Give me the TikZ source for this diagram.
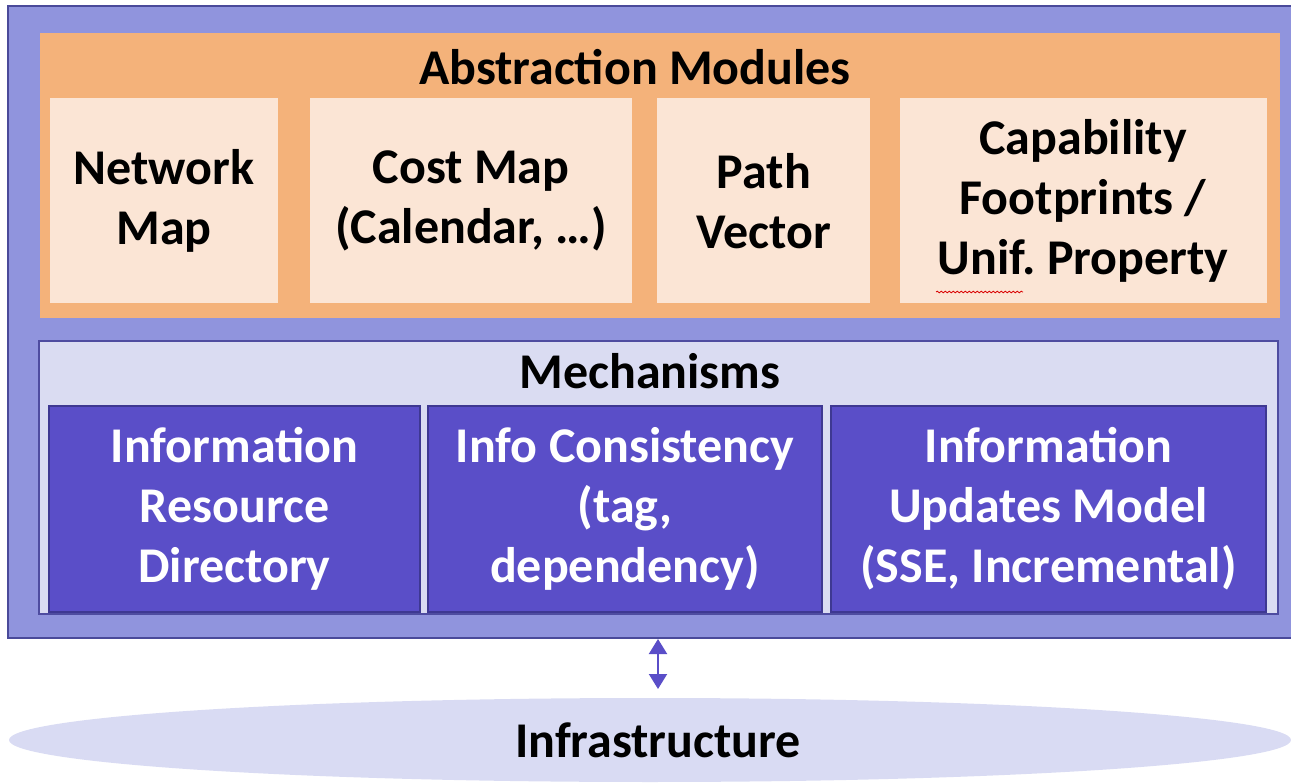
\documentclass[tikz,border=0pt]{standalone}
\usepackage{fontspec}
\setmainfont{Carlito}
\usetikzlibrary{decorations.pathmorphing,arrows.meta}
\definecolor{outerfill}{HTML}{9094DD}
\definecolor{outerdraw}{HTML}{4A4A9A}
\definecolor{orangefill}{HTML}{F4B27A}
\definecolor{peach}{HTML}{FBE5D5}
\definecolor{mechfill}{HTML}{DADCF2}
\definecolor{mechdraw}{HTML}{4E4CA0}
\definecolor{darkbox}{HTML}{5A4EC8}
\definecolor{darkdraw}{HTML}{3E3892}
\definecolor{infra}{HTML}{D9DBF3}
\definecolor{arrowcol}{HTML}{5A4EC8}
\frenchspacing
\tikzset{
  lbl/.style={font=\fontsize{50}{60}\selectfont\bfseries, align=center, inner sep=0pt},
  modbox/.style={fill=peach, draw=none},
  mechbox/.style={fill=darkbox, draw=darkdraw, line width=1.5pt},
}
\begin{document}
\begin{tikzpicture}[x=1pt,y=-1pt]
\useasboundingbox (0,0) rectangle (1291,783);
% infrastructure ellipse
\fill[infra] (650,740) ellipse [x radius=641, y radius=42];
\node[lbl] (infra) at (658,740) {Infrastructure};
% outer container
\draw[fill=outerfill, draw=outerdraw, line width=2pt] (8,6) rectangle (1300,638);
% abstraction modules
\fill[orangefill] (40,33) rectangle (1280,318);
\node[lbl] (abs) at (635,67) {Abstraction Modules};
\fill[modbox] (50,98) rectangle (278,303);
\fill[modbox] (310,98) rectangle (632,303);
\fill[modbox] (657,98) rectangle (870,303);
\fill[modbox] (900,98) rectangle (1267,303);
\node[lbl] (netmap) at (164,201) {Network\\Map};
\node[lbl] (costmap) at (471,201) {Cost Map\\(Calendar, …)};
\node[lbl] (pathvec) at (764,201) {Path\\Vector};
\node[lbl] (capab) at (1083,201) {Capability\\Footprints /\\Unif.\ Property};
\draw[red!85!black, line width=0.8pt, decorate, decoration={snake, amplitude=0.8pt, segment length=4pt}] (936,292) -- (1023,292);
% mechanisms
\draw[fill=mechfill, draw=mechdraw, line width=1.5pt] (39,341) rectangle (1278,614);
\node[lbl] (mech) at (650,371) {Mechanisms};
\draw[mechbox] (49,406) rectangle (420,612);
\draw[mechbox] (428,406) rectangle (822,612);
\draw[mechbox] (831,406) rectangle (1266,612);
\node[lbl, text=white] (ird) at (234.5,509) {Information\\Resource\\Directory};
\node[lbl, text=white] (icons) at (625,509) {Info Consistency\\(tag,\\dependency)};
\node[lbl, text=white] (ium) at (1048.5,509) {Information\\Updates Model\\(SSE, Incremental)};
% arrow
\coordinate (arrtop) at (658,639);
\coordinate (arrbot) at (658,689);
\draw[arrowcol, line width=2pt, {Triangle[width=18pt,length=15pt]}-{Triangle[width=18pt,length=15pt]}] (arrtop) -- (arrbot);
\end{tikzpicture}
\end{document}
